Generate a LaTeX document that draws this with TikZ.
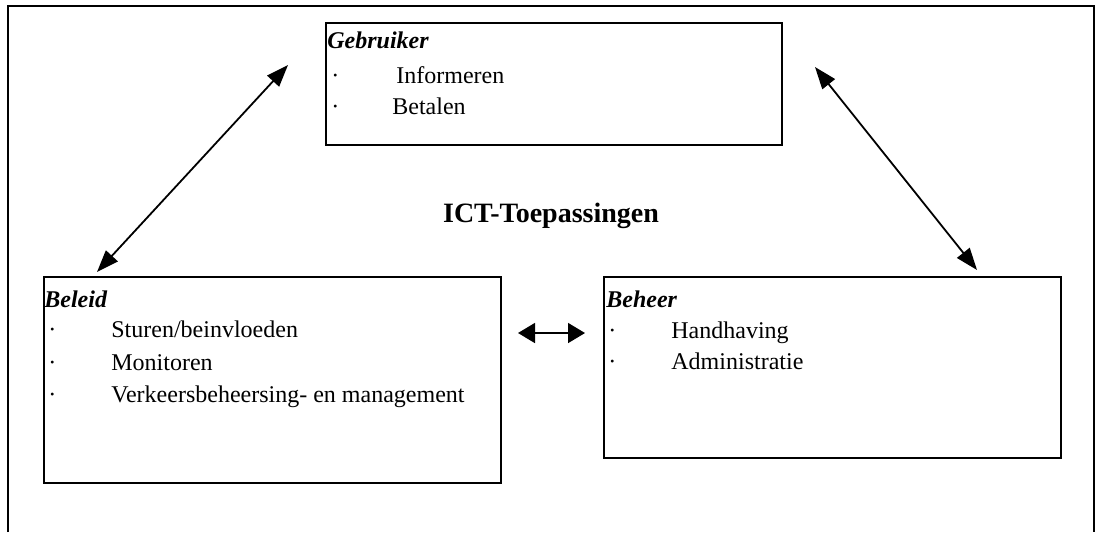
\documentclass[tikz,border=0pt]{standalone}
\usepackage{fontspec}
\setmainfont{Liberation Serif}
\usetikzlibrary{arrows.meta}
\begin{document}
\begin{tikzpicture}[x=0.5pt,y=-0.5pt,
  frame/.style={line width=0.8pt},
  box/.style={draw, line width=0.8pt, inner sep=0pt, anchor=north west},
  txt/.style={anchor=base west, inner sep=0pt, font=\fontsize{12}{14}\selectfont},
  head/.style={anchor=base west, inner sep=0pt, font=\fontsize{12}{14}\selectfont\bfseries\itshape},
  title/.style={anchor=base, inner sep=0pt, font=\fontsize{14}{16}\selectfont\bfseries},
  diag/.style={line width=0.9pt, {Triangle[length=11pt,width=8pt]}-{Triangle[length=11pt,width=8pt]}},
  horiz/.style={line width=0.8pt, {Triangle[length=8.5pt,width=10pt]}-{Triangle[length=8.5pt,width=10pt]}}]
\useasboundingbox (0,0) rectangle (1096,532);
% outer frame (bottom edge lies outside the picture)
\draw[frame] (8,532) -- (8,6) -- (1094,6) -- (1094,532);
% boxes
\node[box, minimum width=228pt, minimum height=61pt] (gebr) at (325,22) {};
\node[box, minimum width=228.5pt, minimum height=103pt] (bel) at (43,276) {};
\node[box, minimum width=228.5pt, minimum height=90.5pt] (beh) at (603,276) {};
% top box text
\node[head] (gh) at (327,48) {Gebruiker};
\node[txt] (gb1) at (331,83) {·};
\node[txt] (gt1) at (396,83) {Informeren};
\node[txt] (gb2) at (331,114) {·};
\node[txt] (gt2) at (392,114) {Betalen};
% left box text
\node[head] (lh) at (44,307) {Beleid};
\node[txt] (lb1) at (48,337) {·};
\node[txt] (lt1) at (111,337) {Sturen/beinvloeden};
\node[txt] (lb2) at (48,370) {·};
\node[txt] (lt2) at (111,370) {Monitoren};
\node[txt] (lb3) at (48,402) {·};
\node[txt] (lt3) at (111,402) {Verkeersbeheersing- en management};
% right box text
\node[head] (rh) at (606,307) {Beheer};
\node[txt] (rb1) at (608,338) {·};
\node[txt] (rt1) at (671,338) {Handhaving};
\node[txt] (rb2) at (608,369) {·};
\node[txt] (rt2) at (671,369) {Administratie};
% title
\node[title] (ict) at (551,222) {ICT-Toepassingen};
% arrow end points
\coordinate (p1) at (288,65);
\coordinate (p2) at (97,272);
\coordinate (q1) at (815,67);
\coordinate (q2) at (977,270);
\coordinate (m1) at (518,333);
\coordinate (m2) at (585,333);
\draw[diag] (p2) -- (p1);
\draw[diag] (q1) -- (q2);
\draw[horiz] (m1) -- (m2);
\end{tikzpicture}
\end{document}
